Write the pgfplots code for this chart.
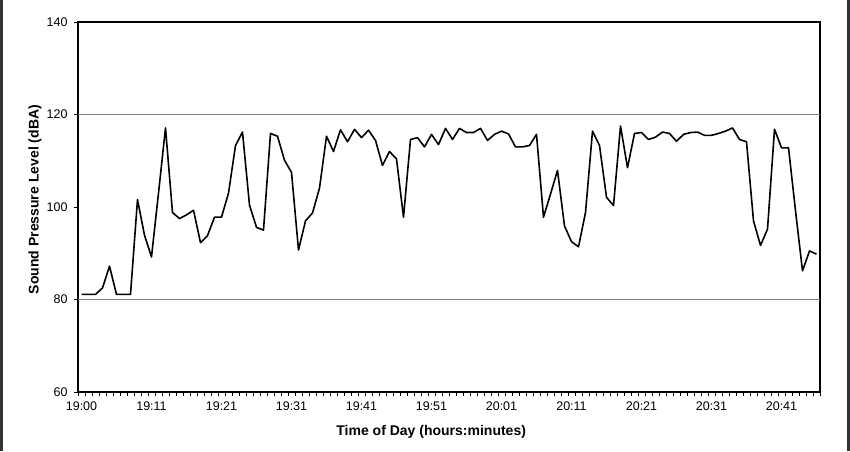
\documentclass[border=0pt]{standalone}
\usepackage{fontspec}
\setmainfont{Liberation Sans}
\usepackage{pgfplots}
\usepackage{pgfplotstable}
\pgfplotsset{compat=1.18}
\pgfplotstableread{
i spl
0 81.1
1 81.1
2 81.1
3 82.5
4 87.2
5 81.1
6 81.1
7 81.1
8 101.6
9 93.9
10 89.2
11 103
12 117.1
13 98.8
14 97.5
15 98.3
16 99.3
17 92.3
18 93.8
19 97.8
20 97.8
21 103
22 113.3
23 116.2
24 100.4
25 95.6
26 95.0
27 115.9
28 115.3
29 110.1
30 107.5
31 90.7
32 97.0
33 98.7
34 104.1
35 115.3
36 112.0
37 116.7
38 114.1
39 116.8
40 115.0
41 116.6
42 114.4
43 109.0
44 112.0
45 110.4
46 97.8
47 114.6
48 115.0
49 113.0
50 115.7
51 113.5
52 117.0
53 114.6
54 117.0
55 116.1
56 116.1
57 117.0
58 114.4
59 115.7
60 116.4
61 115.8
62 113.0
63 113.0
64 113.3
65 115.7
66 97.8
67 102.8
68 107.9
69 95.9
70 92.5
71 91.4
72 98.8
73 116.4
74 113.3
75 102.1
76 100.3
77 117.5
78 108.5
79 115.9
80 116.1
81 114.6
82 115.1
83 116.2
84 115.9
85 114.2
86 115.7
87 116.1
88 116.2
89 115.5
90 115.5
91 115.9
92 116.4
93 117.1
94 114.6
95 114.1
96 97.0
97 91.7
98 95.2
99 116.8
100 112.8
101 112.8
102 99.2
103 86.2
104 90.5
105 89.8
}\spldata
\begin{document}
\begin{tikzpicture}[x=1pt,y=1pt]
\useasboundingbox (0,0) rectangle (850,451);
\fill[black!80] (0,0) rectangle (3,451);
\fill[black!80] (847,0) rectangle (850,451);
\begin{axis}[
  at={(78pt,59pt)}, anchor=south west,
  width=742pt, height=370pt, scale only axis,
  xmin=-0.5, xmax=105.5, ymin=60, ymax=140,
  ytick={60,80,...,140},
  xtick={-0.5,0.5,...,105.5},
  xticklabels={},
  xtick pos=bottom, ytick pos=left,
  extra x ticks={0,10,...,100},
  extra x tick labels={19:00,19:11,19:21,19:31,19:41,19:51,20:01,20:11,20:21,20:31,20:41},
  extra x tick style={major tick length=0pt},
  extra y ticks={80,120},
  extra y tick labels={},
  extra y tick style={grid=major, major tick length=0pt},
  major grid style={draw=black!50, line width=1.6pt},
  tick align=outside,
  major tick length=4pt,
  tick style={black, line width=0.9pt},
  axis line style={black, line width=1.6pt},
  /pgf/number format/assume math mode=true,
  tick label style={font=\fontsize{12.5}{14}\selectfont},
  yticklabel style={xshift=-3pt},
  xticklabel style={yshift=-6pt},
  xlabel={Time of Day (hours:minutes)},
  ylabel={Sound Pressure Level (dBA)},
  label style={font=\bfseries\fontsize{14}{16}\selectfont},
  x label style={at={(axis description cs:0.476,-0.108)}, anchor=center},
  y label style={at={(axis description cs:-0.058,0.52)}, anchor=center},
]
\addplot[black, line width=1.6pt, line join=round] table[x=i, y=spl] {\spldata};
\end{axis}
\end{tikzpicture}
\end{document}
